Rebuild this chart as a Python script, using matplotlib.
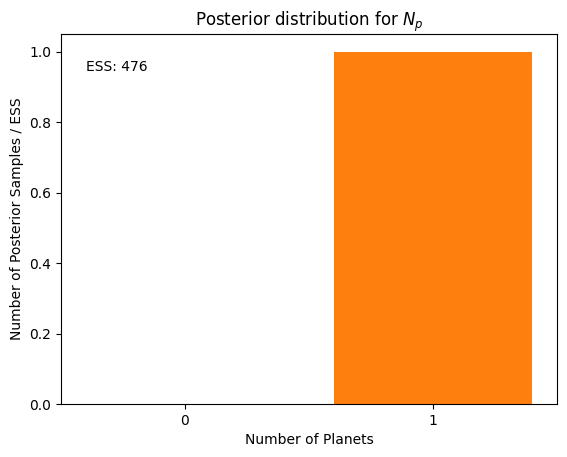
import matplotlib
matplotlib.use("Agg")
import matplotlib.pyplot as plt

planets = [0, 1]
fractions = [0.0, 1.0]
ess = 476

fig = plt.figure(figsize=(5.67, 4.57), dpi=100)
ax = fig.add_axes([61/567, 53/457, 496/567, 370/457])
ax.bar(planets[0], fractions[0], color="C0")
ax.bar(planets[1], fractions[1], color="C1")
ax.set_xticks(planets)
ax.set_xlim(-0.5, 1.5)
ax.set_ylim(0, 1.05)
ax.set_xlabel("Number of Planets")
ax.set_ylabel("Number of Posterior Samples / ESS")
ax.set_title("Posterior distribution for $N_p$")
ax.text(0.05, 0.9, f"ESS: {ess}", transform=ax.transAxes, ha="left")
fig.savefig("out.png", dpi=100)
